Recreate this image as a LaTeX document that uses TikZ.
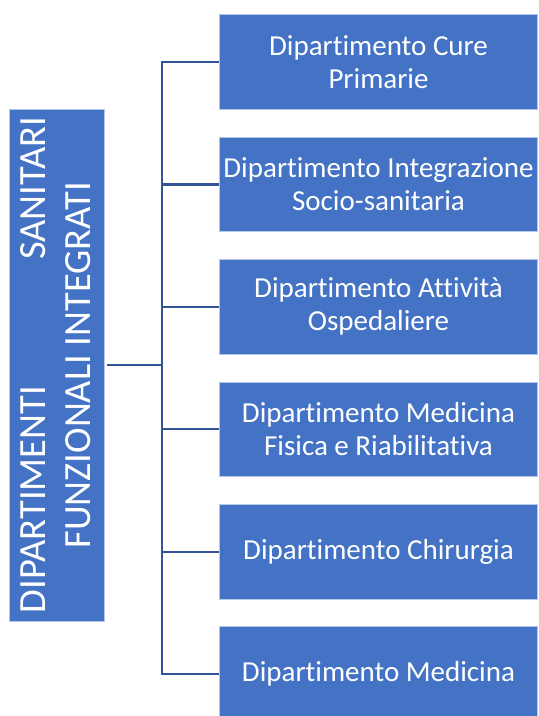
\documentclass[tikz,border=0pt]{standalone}
\usepackage{fontspec}
\setmainfont{Carlito}[Ligatures={NoCommon}]
\usepackage{graphicx}
\usetikzlibrary{positioning}
\definecolor{BoxBlue}{HTML}{4472C4}
\definecolor{EdgeBlue}{HTML}{B4C7E7}
\definecolor{LineBlue}{HTML}{2F5597}

\begin{document}
\begin{tikzpicture}[
    x=1pt, y=-1pt,
    dept/.style={draw=EdgeBlue, line width=0.8pt, fill=BoxBlue, text=white,
        minimum width=318pt, minimum height=94.6pt, inner sep=0pt,
        align=center, font=\fontsize{29}{33}\selectfont},
    headbox/.style={draw=EdgeBlue, line width=0.8pt, fill=BoxBlue, text=white,
        minimum width=95pt, minimum height=512pt, inner sep=0pt,
        font=\fontsize{38.5}{45}\selectfont},
    link/.style={draw=LineBlue, line width=2.2pt},
]
\useasboundingbox (0,0) rectangle (539,716);

% === Head (rotated text) ===
\node[headbox] (dsfi) at (56.8, 365) {\hspace{5pt}\rotatebox{90}{\begin{tabular}{@{}c@{}}
    \makebox[496pt]{DIPARTIMENTI\hfill SANITARI}\\
    FUNZIONALI INTEGRATI
    \end{tabular}}};

% =============================================
% DEPARTMENTS
% =============================================
\node[dept] (cure) at (378.5, 62.0) {Dipartimento Cure\\Primarie};
\node[dept] (socio) at (378.5, 184.4) {Dipartimento Integrazione\\Socio-sanitaria};
\node[dept] (osped) at (378.5, 306.8) {Dipartimento Attività\\Ospedaliere};
\node[dept] (fisica) at (378.5, 429.2) {Dipartimento Medicina\\Fisica e Riabilitativa};
\node[dept] (chir) at (378.5, 551.6) {Dipartimento Chirurgia};
\node[dept] (medic) at (378.5, 674.0) {Dipartimento Medicina};

% =============================================
% CONNECTORS
% =============================================
\coordinate (trunk) at (162.3, 365);
\draw[link, shorten <=2.5pt] (dsfi.east) -- (trunk);
\draw[link] (trunk) |- (cure.west);
\draw[link] (trunk) |- (socio.west);
\draw[link] (trunk) |- (osped.west);
\draw[link] (trunk) |- (fisica.west);
\draw[link] (trunk) |- (chir.west);
\draw[link] (trunk) |- (medic.west);

\end{tikzpicture}
\end{document}
